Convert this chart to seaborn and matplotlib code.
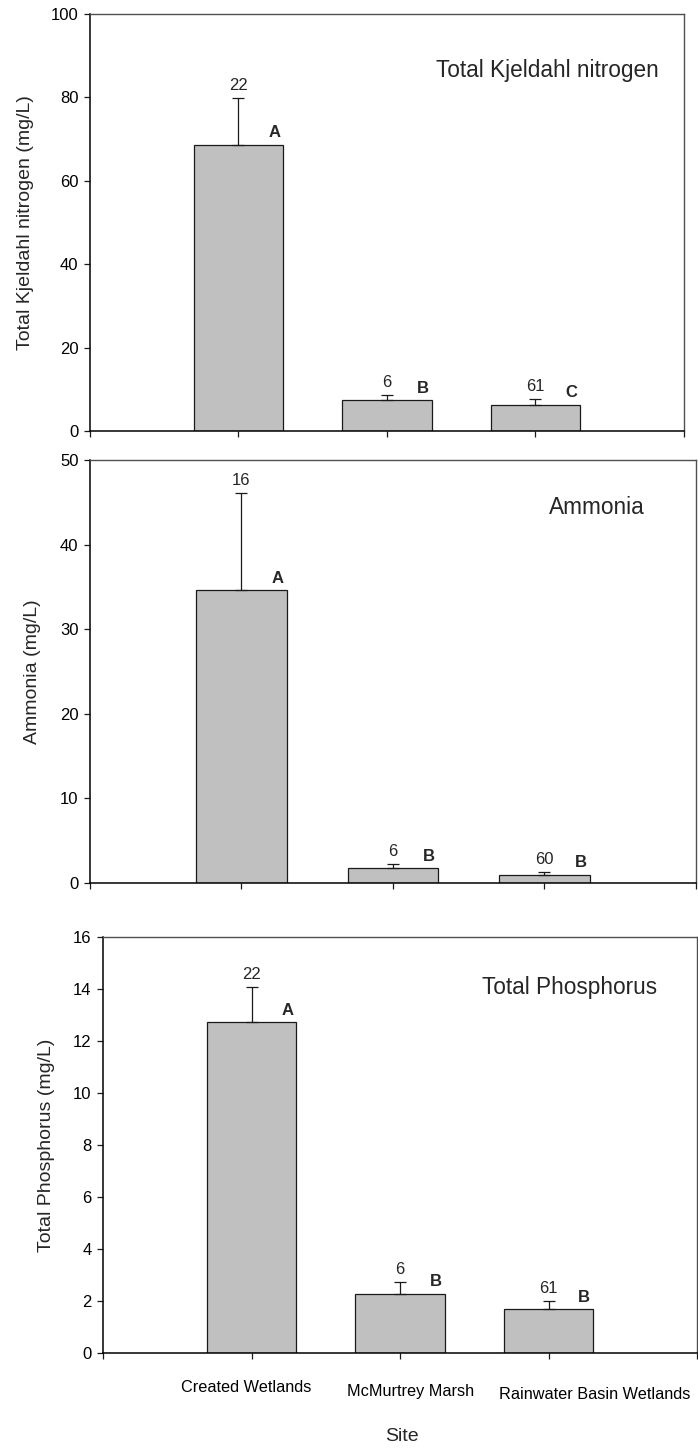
import seaborn as sns
import matplotlib.pyplot as plt
import matplotlib.transforms as mtransforms
import pandas as pd
import numpy as np

# Data
sites = ['Created Wetlands', 'McMurtrey Marsh', 'Rainwater Basin Wetlands']

tkn_mean = [68.7, 7.4, 6.3]
tkn_err = [11.2, 1.3, 1.3]
tkn_n = [22, 6, 61]
tkn_group = ['A', 'B', 'C']

nh3_mean = [34.6, 1.74, 0.98]
nh3_err = [11.5, 0.56, 0.32]
nh3_n = [16, 6, 60]
nh3_group = ['A', 'B', 'B']

tp_mean = [12.72, 2.28, 1.69]
tp_err = [1.37, 0.46, 0.31]
tp_n = [22, 6, 61]
tp_group = ['A', 'B', 'B']

sns.set_theme(style='ticks')
plt.rcParams['font.family'] = ['Liberation Sans', 'DejaVu Sans']

fig = plt.figure(figsize=(6.98, 14.48), dpi=100)
ax1 = fig.add_axes([0.1289, 0.7024, 0.8510, 0.2879])
ax2 = fig.add_axes([0.1289, 0.3902, 0.8682, 0.2921])
ax3 = fig.add_axes([0.1476, 0.0656, 0.8510, 0.2873])


def panel(ax, mean, err, n, grp, ylabel, title, ymax, step, title_xy, ylab_x):
    df = pd.DataFrame({'Site': sites, 'Value': mean})
    sns.barplot(data=df, x='Site', y='Value', color='#c0c0c0', saturation=1,
                width=0.6, edgecolor='#1a1a1a', linewidth=0.9, errorbar=None, ax=ax)
    x = np.arange(len(sites))
    ax.errorbar(x, mean, yerr=[np.zeros(len(err)), err], fmt='none',
                ecolor='#1a1a1a', elinewidth=0.9, capsize=4.6, capthick=0.9)
    for i in range(len(sites)):
        top = mean[i] + err[i]
        ax.annotate(str(n[i]), (i, top), xytext=(0, 9), textcoords='offset points',
                    ha='center', va='center', fontsize=12)
        ax.annotate(grp[i], (i + 0.24, mean[i]), xytext=(0, 8.5), textcoords='offset points',
                    ha='center', va='center', fontsize=12, fontweight='bold')

    ax.text(title_xy[0], title_xy[1], title, transform=ax.transAxes,
            ha='right', va='baseline', fontsize=16.3)

    ax.set_xlim(-1, 3)
    ax.set_ylim(0, ymax)
    ax.set_yticks(np.arange(0, ymax + step / 2, step))
    ax.set_xticks([-1, 0, 1, 2, 3])
    ax.set_xticklabels([])
    ax.set_xlabel('')
    ax.set_ylabel(ylabel, fontsize=14)
    ax.yaxis.label.set_va('center')
    ax.yaxis.set_label_coords(ylab_x, 0.5)
    ax.tick_params(direction='out', length=4.3, width=0.9, labelsize=12,
                   color='#1a1a1a', labelcolor='black', pad=4)
    for s in ['left', 'bottom']:
        ax.spines[s].set_color('black')
        ax.spines[s].set_linewidth(1.1)
    for s in ['top', 'right']:
        ax.spines[s].set_color('#505050')
        ax.spines[s].set_linewidth(1.0)


panel(ax1, tkn_mean, tkn_err, tkn_n, tkn_group, 'Total Kjeldahl nitrogen (mg/L)',
      'Total Kjeldahl nitrogen', 100, 20, (0.958, 0.848), -0.109)
panel(ax2, nh3_mean, nh3_err, nh3_n, nh3_group, 'Ammonia (mg/L)',
      'Ammonia', 50, 10, (0.916, 0.872), -0.095)
panel(ax3, tp_mean, tp_err, tp_n, tp_group, 'Total Phosphorus (mg/L)',
      'Total Phosphorus', 16, 2, (0.932, 0.862), -0.096)

# site labels on the bottom panel, slightly staggered like the original
ax3.set_xticklabels([''] + sites + [''], fontsize=11.7)
shift_x = [0, -5, 11, 46, 0]
shift_y = [0, 23, 27, 29.6, 0]
for lbl, dx, dy in zip(ax3.get_xticklabels(), shift_x, shift_y):
    lbl.set_va('center')
    lbl.set_transform(lbl.get_transform() +
                      mtransforms.ScaledTranslation(dx / 100, -dy / 100, fig.dpi_scale_trans))

ax3.set_xlabel('Site', fontsize=14)
ax3.xaxis.label.set_va('center')
ax3.xaxis.set_label_coords(0.503, -0.201)

fig.savefig('out.png', dpi=100)
